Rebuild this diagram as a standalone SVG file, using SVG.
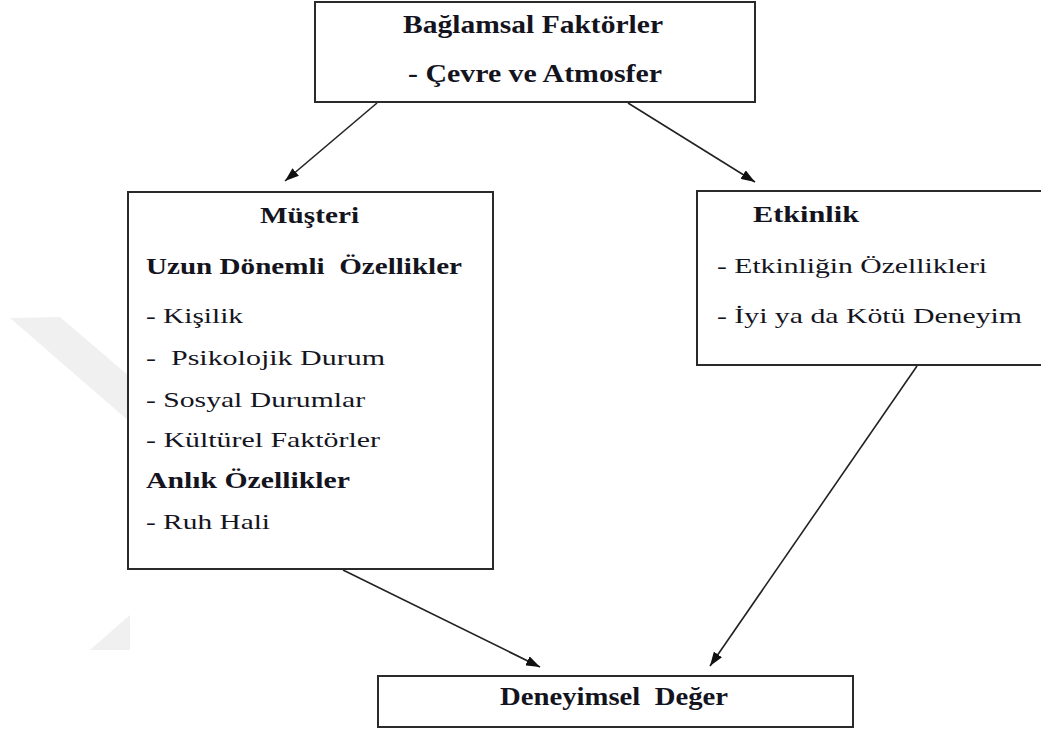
<svg xmlns="http://www.w3.org/2000/svg" width="1041" height="731" viewBox="0 0 1041 731">
  <defs>
    <marker id="arrow" viewBox="0 0 14 10" refX="14" refY="5" markerWidth="14" markerHeight="10" markerUnits="userSpaceOnUse" orient="auto">
      <path d="M0,0 L14,5 L0,10 Z" fill="#111"/>
    </marker>
  </defs>
  <style>
    .box { fill: #fff; stroke: #2a2a2a; stroke-width: 2; }
    .t { font-family: "Liberation Serif", "Times New Roman", serif; fill: #14141e; }
    .b { font-weight: bold; }
    .r { font-size: 22px; }
    .h { font-size: 23px; }
    .big { font-size: 26px; }
    .edge { stroke: #222; stroke-width: 1.6; fill: none; marker-end: url(#arrow); }
    .wm { fill: #f0f0f0; }
  </style>

  <rect width="1041" height="731" fill="#fff"/>

  <!-- faint background mark -->
  <g id="watermark">
    <polygon class="wm" points="10,318 60,317 130,377 130,422"/>
    <polygon class="wm" points="130,615 90,650 130,650"/>
  </g>

  <g id="connectors">
    <line class="edge" x1="377" y1="103" x2="285" y2="181"/>
    <line class="edge" x1="628" y1="103" x2="755" y2="182"/>
    <line class="edge" x1="343" y1="570" x2="540" y2="667"/>
    <line class="edge" x1="917" y1="366" x2="710" y2="666"/>
  </g>

  <g id="baglamsal">
    <rect class="box" x="315" y="2" width="440" height="100"/>
    <text class="t b big" x="403" y="33" textLength="260" lengthAdjust="spacingAndGlyphs">Bağlamsal Faktörler</text>
    <text class="t b big" x="408" y="82" textLength="254" lengthAdjust="spacingAndGlyphs">- Çevre ve Atmosfer</text>
  </g>

  <g id="musteri">
    <rect class="box" x="128" y="192" width="365" height="377"/>
    <text class="t b h" x="260" y="223" textLength="99" lengthAdjust="spacingAndGlyphs">Müşteri</text>
    <text class="t b h" x="146" y="274" textLength="316" lengthAdjust="spacingAndGlyphs" xml:space="preserve">Uzun Dönemli  Özellikler</text>
    <text class="t r" x="146" y="323" textLength="97" lengthAdjust="spacingAndGlyphs">- Kişilik</text>
    <text class="t r" x="146" y="365" textLength="239" lengthAdjust="spacingAndGlyphs" xml:space="preserve">-  Psikolojik Durum</text>
    <text class="t r" x="146" y="407" textLength="219" lengthAdjust="spacingAndGlyphs">- Sosyal Durumlar</text>
    <text class="t r" x="146" y="447" textLength="234" lengthAdjust="spacingAndGlyphs">- Kültürel Faktörler</text>
    <text class="t b h" x="146" y="488" textLength="204" lengthAdjust="spacingAndGlyphs">Anlık Özellikler</text>
    <text class="t r" x="146" y="529" textLength="124" lengthAdjust="spacingAndGlyphs">- Ruh Hali</text>
  </g>

  <g id="etkinlik">
    <rect class="box" x="697" y="191" width="350" height="174"/>
    <text class="t b h" x="753" y="222" textLength="106" lengthAdjust="spacingAndGlyphs">Etkinlik</text>
    <text class="t r" x="717" y="273" textLength="270" lengthAdjust="spacingAndGlyphs">- Etkinliğin Özellikleri</text>
    <text class="t r" x="717" y="323" textLength="305" lengthAdjust="spacingAndGlyphs">- İyi ya da Kötü Deneyim</text>
  </g>

  <g id="deneyimsel">
    <rect class="box" x="378" y="676" width="475" height="51"/>
    <text class="t b big" x="500" y="705" textLength="228" lengthAdjust="spacingAndGlyphs" xml:space="preserve">Deneyimsel  Değer</text>
  </g>
</svg>
